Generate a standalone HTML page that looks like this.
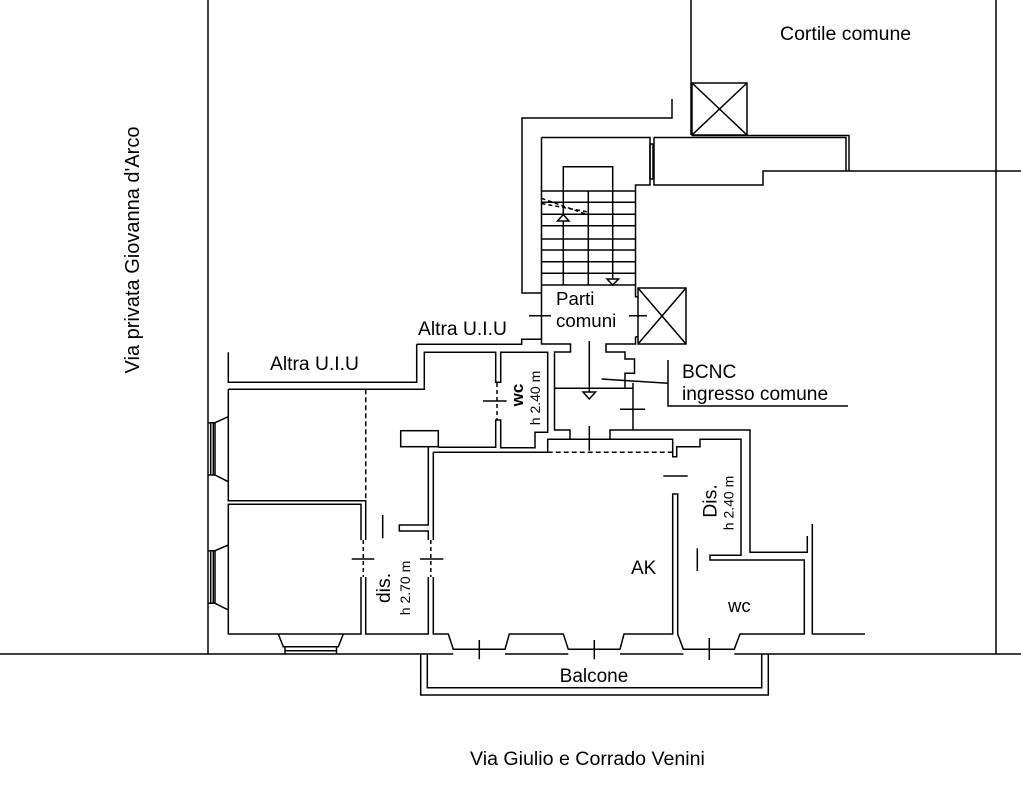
<!DOCTYPE html>
<html><head><meta charset="utf-8"><style>
html,body{margin:0;padding:0;background:#fff;}
svg{display:block}
text{font-family:"Liberation Sans",Arial,sans-serif;fill:#000}
</style></head><body>
<svg width="1021" height="810" viewBox="0 0 1021 810" xmlns="http://www.w3.org/2000/svg">
<rect width="1021" height="810" fill="#fff"/>
<g fill="none" stroke="#000" stroke-width="1.5">
<!-- global -->
<path d="M208,0V654 M996,0V654 M691,0V135 M0,654H453.3 M505,654H568.3 M620,654H683.3 M734.3,654H1021"/>
<!-- top block -->
<rect x="692" y="83" width="55" height="52"/>
<path d="M692,83L747,135 M747,83L692,135"/>
<path d="M692,135.5H849V171H1021 M654,137.5H846V171 M654,137.5V185H763V171H849"/>
<path d="M650,144V179 M653,144V179 M650,144H654 M650,179H654"/>
<!-- stair -->
<path d="M672,99V118H522V293H541.5"/>
<path d="M541.5,137.5H650V185H635.5V296.7H638 M635.5,336.7H638 M635.5,336.7V344H606V352H625V359H634.5V373.3H625V388.3"/>
<path d="M541.5,137.5V344H570.5V352H554.5V430H570V439.3"/>
<path d="M541.5,191H635.5 M541.5,202.3H635.5 M541.5,214.3H635.5 M541.5,225.7H635.5 M541.5,239H635.5 M541.5,250H635.5 M541.5,261.7H635.5 M541.5,273.3H635.5 M541.5,285H635.5"/>
<path d="M563.3,285V166.7H612.7V279 M588.3,191V285"/>
<polygon points="557.5,221 569,221 563.3,214.5" fill="#fff"/>
<polygon points="607,279 618.5,279 612.7,285" fill="#fff"/>
<path d="M541.5,198.3L588.3,215 M541.5,203.5L588.3,212" stroke-dasharray="4 3"/>
<rect x="638" y="288" width="48" height="56"/>
<path d="M638,288L686,344 M686,288L638,344"/>
<path d="M529,315.7H551 M629,315.7H647"/>
<!-- Altra UIU / upper wc -->
<path d="M416.7,344.3H521.7V339.3H541.5"/>
<path d="M228.3,352.3V382.3H416.7V344.3"/>
<path d="M228.3,389.3H424.3V352.3H495.7V382.3H500.7V352.3H547.7V432.3H535V447.7H500.7V420H495.7V447.3H438.3"/>
<rect x="400.7" y="430.7" width="37.6" height="16"/>
<path d="M483,401H506.7"/>
<path d="M497,383V420" stroke-dasharray="4 3"/>
<!-- BCNC -->
<path d="M554.5,388.3H633 M633,383V430 M610,439.3V430H750V552.3H807.3V536"/>
<path d="M589.3,341V392 M589.3,426V450.7"/>
<polygon points="583,392 595.5,392 589.3,399" fill="#fff"/>
<path d="M601.7,379L668,383.3 M668,360V406H848 M620,409.3H645"/>
<!-- AK / Dis / wc -->
<path d="M433.3,452.3H547.7V439.3H672.7V456.7H676.7V446.7H700V439.3H741V555.3H710V560H804.3V634H740L734.3,649.3H683.3L677.7,634V494H672.7V634H624L620,649.3H568.3L563.3,634H509.3L505,649.3H453.3L448.3,634H433.3V577"/>
<path d="M547.7,452.3H672.3" stroke-dasharray="5 3"/>
<path d="M433.3,452.3V540 M428.3,447.3V525H399.3V531H428.3V540"/>
<path d="M428.3,577V634H365.7V577 M365.7,540V500.7H228.3V389.3"/>
<path d="M365.7,389.3V500.7" stroke-dasharray="5 3"/>
<path d="M361,540V504.3H228.3V634H361V577"/>
<path d="M363.3,540V577 M430.8,540V577" stroke-dasharray="4 3"/>
<path d="M351.7,559H374.3 M420,559H443.3 M382.7,515V538.3 M663.3,476H687.7 M697.3,548.3V571 M812.3,524V634H865"/>
<path d="M479.3,640V659.3 M594.3,640V659.3 M709.3,638V660"/>
<!-- balcony -->
<path d="M420.7,654V695H768.3V654 M427.3,654V687.7H761.7V654"/>
<!-- left windows -->
<path d="M228.3,416.7L215,422.7 M215,475L228.3,481.7 M210.7,422.7V475 M213.3,422.7V475 M215,422.7V475 M208,422.7H215 M208,475H215"/>
<path d="M228.3,545L215,550.7 M215,603.3L228.3,610 M210.7,550.7V603.3 M213.3,550.7V603.3 M215,550.7V603.3 M208,550.7H215 M208,603.3H215"/>
<path d="M278.3,634L283.3,646.7H338.3L343.3,634 M285,646.7V654 M336.5,646.7V654 M285,650.7H336.5"/>
</g>
<!-- texts -->
<text x="780" y="40" font-size="19.5">Cortile comune</text>
<text transform="translate(139,250) rotate(-90)" text-anchor="middle" font-size="20">Via privata Giovanna d'Arco</text>
<text x="470" y="765" font-size="19.6">Via Giulio e Corrado Venini</text>
<text x="418" y="335" font-size="19.3">Altra U.I.U</text>
<text x="270" y="370" font-size="19.3">Altra U.I.U</text>
<text x="556" y="305" font-size="18.7">Parti</text>
<text x="556" y="327" font-size="18.7">comuni</text>
<text x="682" y="378" font-size="19.2">BCNC</text>
<text x="682" y="400" font-size="19.2">ingresso comune</text>
<text x="631" y="574" font-size="19">AK</text>
<text x="728" y="612" font-size="18.5">wc</text>
<text x="594" y="682" font-size="19" text-anchor="middle">Balcone</text>
<text transform="translate(390,588) rotate(-90)" text-anchor="middle" font-size="19.5">dis.</text>
<text transform="translate(410,588) rotate(-90)" text-anchor="middle" font-size="14">h 2.70 m</text>
<text transform="translate(523,395) rotate(-90)" text-anchor="middle" font-size="17" font-weight="bold">wc</text>
<text transform="translate(540,398) rotate(-90)" text-anchor="middle" font-size="14">h 2.40 m</text>
<text transform="translate(716.5,501) rotate(-90)" text-anchor="middle" font-size="19.5">Dis.</text>
<text transform="translate(733.5,503) rotate(-90)" text-anchor="middle" font-size="14">h 2.40 m</text>
</svg>
</body></html>
